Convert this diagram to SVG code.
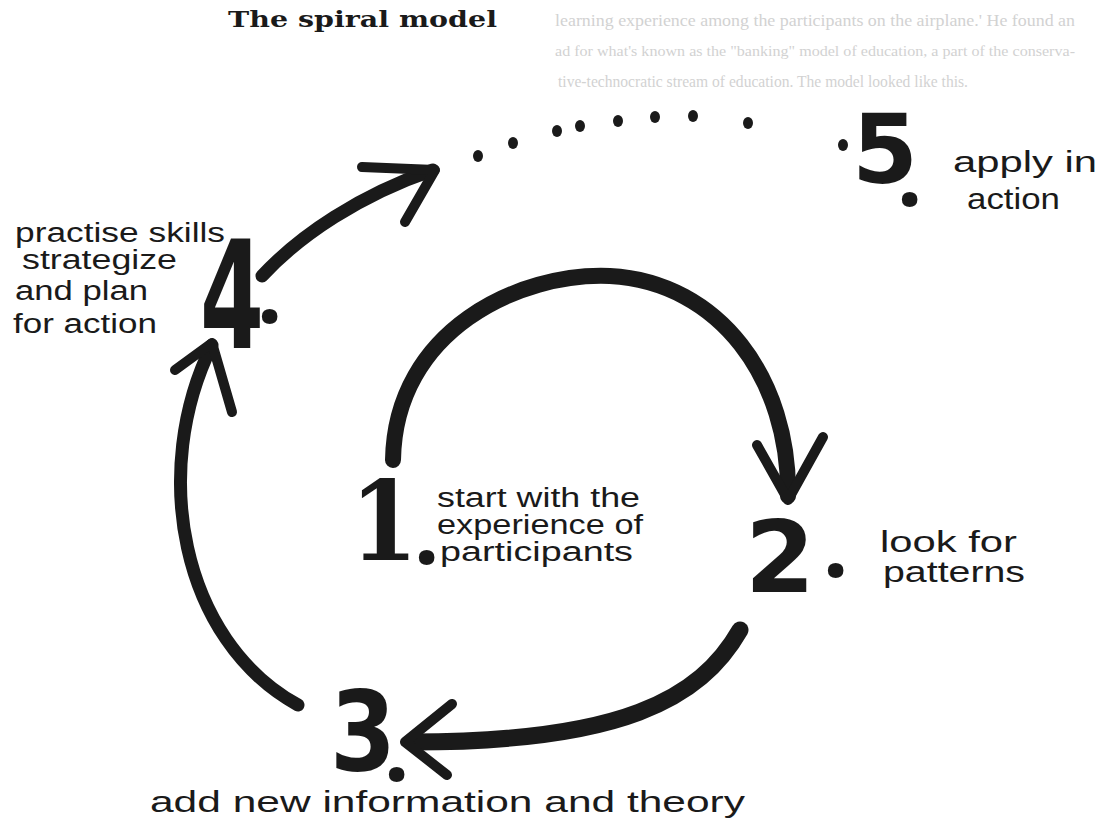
<svg xmlns="http://www.w3.org/2000/svg" width="1101" height="823" viewBox="0 0 1101 823">
<style>
.title{font-family:"DejaVu Serif","Liberation Serif",serif;font-weight:bold;font-size:23px;fill:#1a1a1a}
.faint{font-family:"Liberation Serif",serif;font-size:17px;fill:#d2d2d2}
.hand{font-family:"Liberation Sans","DejaVu Sans",sans-serif;font-size:27px;fill:#1a1a1a}
.big{font-size:30px}
.num{font-family:"DejaVu Sans",sans-serif;font-weight:bold;fill:#1a1a1a}
.numserif{font-family:"DejaVu Serif",serif;font-weight:bold;fill:#1a1a1a}
.pt{font-family:"Noto Sans",sans-serif;font-weight:bold;font-size:90px;fill:#1a1a1a}
.arc{fill:none;stroke:#1a1a1a;stroke-linecap:round;stroke-linejoin:round}
.dot{fill:#1a1a1a}
</style>
<rect width="1101" height="823" fill="#ffffff"/>
<text class="title" x="228" y="27" textLength="269" lengthAdjust="spacingAndGlyphs">The spiral model</text>
<g id="bleed">
<text class="faint" x="555" y="26" textLength="520" lengthAdjust="spacingAndGlyphs">learning experience among the participants on the airplane.' He found an</text>
<text class="faint" x="555" y="56" style="font-size:15px" textLength="520" lengthAdjust="spacingAndGlyphs">ad for what's known as the "banking" model of education, a part of the conserva-</text>
<text class="faint" x="558" y="87" textLength="410" lengthAdjust="spacingAndGlyphs">tive-technocratic stream of education. The model looked like this.</text>
</g>
<g id="connectors">
<path class="arc" stroke-width="16" d="M393,460 C395,330 520,272 610,276 C720,282 790,380 788,496"/>
<path class="arc" stroke-width="10" d="M757,445 L788,500 L823,437"/>
<path class="arc" stroke-width="17" d="M740,630 C700,700 620,742 412,742"/>
<path class="arc" stroke-width="10" d="M452,704 L405,742 L447,775"/>
<path class="arc" stroke-width="13" d="M298,705 C180,640 150,470 212,345"/>
<path class="arc" stroke-width="10" d="M175,370 L212,343 L232,412"/>
<path class="arc" stroke-width="13" d="M262,276 C300,235 360,195 433,170"/>
<path class="arc" stroke-width="10" d="M362,167 L435,170 L405,222"/>
<g id="dotted">
<ellipse class="dot" cx="478" cy="156" rx="5" ry="6"/>
<ellipse class="dot" cx="513" cy="143" rx="5" ry="6"/>
<ellipse class="dot" cx="557" cy="131" rx="5" ry="6"/>
<ellipse class="dot" cx="580" cy="126" rx="5" ry="6"/>
<ellipse class="dot" cx="618" cy="121" rx="5" ry="6"/>
<ellipse class="dot" cx="655" cy="117" rx="5" ry="6"/>
<ellipse class="dot" cx="693" cy="116" rx="5" ry="6"/>
<ellipse class="dot" cx="748" cy="123" rx="5" ry="6"/>
<ellipse class="dot" cx="843" cy="145" rx="5" ry="6"/>
</g>
</g>
<g id="node1">
<text class="numserif" x="350" y="560" font-size="110" textLength="68" lengthAdjust="spacingAndGlyphs">1</text>
<text class="pt" x="414" y="564">.</text>
<text class="hand" x="437" y="507" textLength="203" lengthAdjust="spacingAndGlyphs">start with the</text>
<text class="hand" x="437" y="534" textLength="206" lengthAdjust="spacingAndGlyphs">experience of</text>
<text class="hand" x="440" y="561" textLength="193" lengthAdjust="spacingAndGlyphs">participants</text>
</g>
<g id="node2">
<text class="num" x="745" y="592" font-size="100" textLength="70" lengthAdjust="spacingAndGlyphs">2</text>
<text class="pt" x="823" y="577">.</text>
<text class="hand big" x="880" y="552" textLength="137" lengthAdjust="spacingAndGlyphs">look for</text>
<text class="hand big" x="883" y="582" textLength="142" lengthAdjust="spacingAndGlyphs">patterns</text>
</g>
<g id="node3">
<text class="num" x="330" y="770" font-size="110" textLength="66" lengthAdjust="spacingAndGlyphs">3</text>
<text class="pt" x="384" y="781">.</text>
<text class="hand big" x="150" y="812" textLength="595" lengthAdjust="spacingAndGlyphs">add new information and theory</text>
</g>
<g id="node4">
<text class="num" x="200" y="348" font-size="150" font-weight="normal" textLength="64" lengthAdjust="spacingAndGlyphs">4</text>
<text class="pt" x="257" y="323">.</text>
<text class="hand" x="15" y="242" textLength="210" lengthAdjust="spacingAndGlyphs">practise skills</text>
<text class="hand" x="22" y="269" textLength="155" lengthAdjust="spacingAndGlyphs">strategize</text>
<text class="hand" x="15" y="300" textLength="133" lengthAdjust="spacingAndGlyphs">and plan</text>
<text class="hand" x="13" y="333" textLength="144" lengthAdjust="spacingAndGlyphs">for action</text>
</g>
<g id="node5">
<text class="num" x="852" y="183" font-size="96" textLength="66" lengthAdjust="spacingAndGlyphs">5</text>
<text class="pt" x="897" y="206">.</text>
<text class="hand big" x="953" y="172" textLength="144" lengthAdjust="spacingAndGlyphs">apply in</text>
<text class="hand big" x="967" y="209" textLength="93" lengthAdjust="spacingAndGlyphs">action</text>
</g>
</svg>
